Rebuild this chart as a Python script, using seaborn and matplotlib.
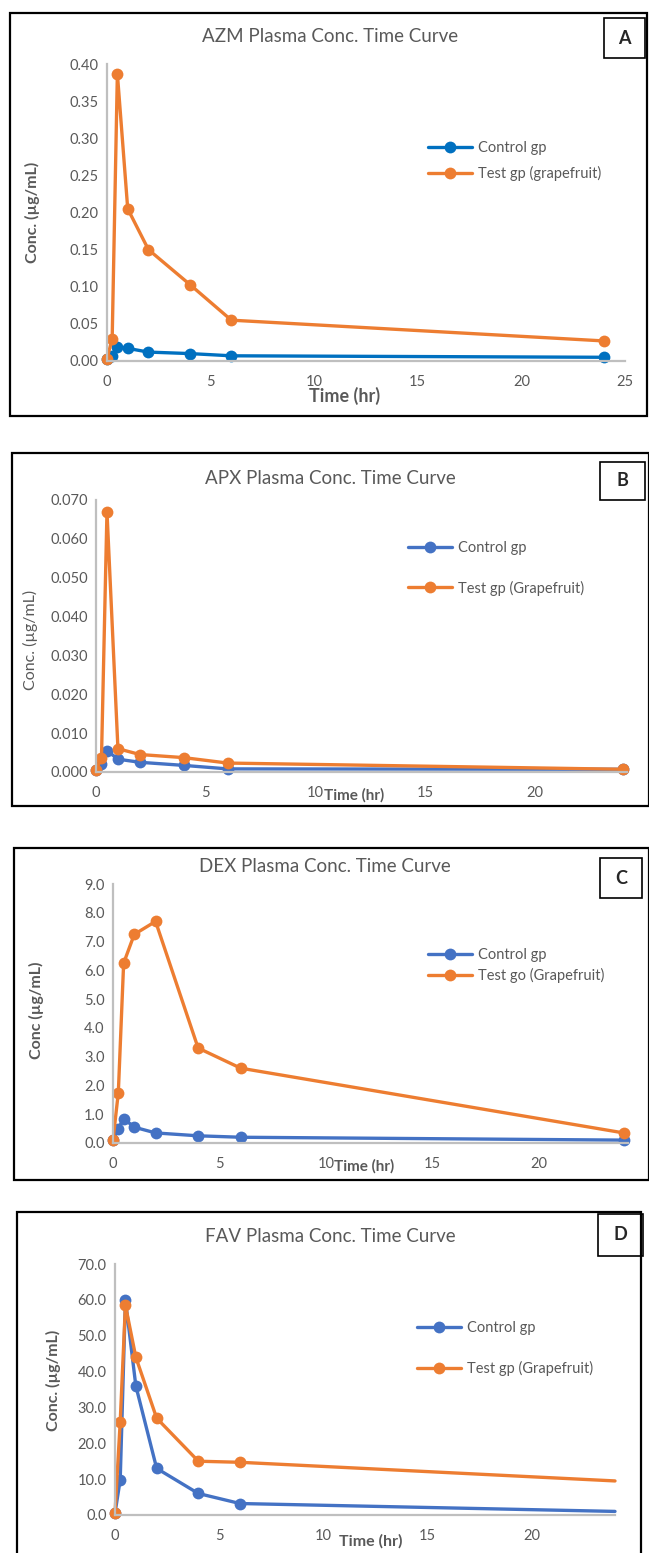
import matplotlib
matplotlib.use("Agg")
import matplotlib.pyplot as plt
import seaborn as sns
import pandas as pd
from matplotlib.patches import Rectangle
from matplotlib.ticker import FormatStrFormatter

# sampling times (hr)
time_hr = [0, 0.25, 0.5, 1, 2, 4, 6, 24]

# AZM
azm_control = [0.003, 0.007, 0.019, 0.017, 0.012, 0.010, 0.007, 0.005]
azm_test = [0.003, 0.030, 0.387, 0.205, 0.150, 0.103, 0.055, 0.027]
# APX
apx_control = [0.0005, 0.0020, 0.0055, 0.0033, 0.0025, 0.0017, 0.0008, 0.0007]
apx_test = [0.0005, 0.0037, 0.0670, 0.0060, 0.0045, 0.0037, 0.0023, 0.0007]
# DEX
dex_control = [0.10, 0.50, 0.85, 0.55, 0.35, 0.25, 0.20, 0.10]
dex_test = [0.10, 1.75, 6.25, 7.25, 7.70, 3.30, 2.60, 0.35]
# FAV
fav_control = [0.5, 9.8, 60.0, 36.0, 13.0, 6.0, 3.2, 1.0]
fav_test = [0.5, 26.0, 58.5, 44.0, 27.0, 15.0, 14.7, 9.5]

W, H = 649, 1553
GREY = "#595959"
ORANGE = "#ED7D31"

sns.set_style("white")
plt.rcParams["font.family"] = ["Lato", "DejaVu Sans"]

fig = plt.figure(figsize=(W / 100, H / 100), dpi=100)


def fx(x):
    return x / W


def fy(y):
    return 1 - y / H


def draw_panel(spec):
    # outer frame of the panel
    x0, y0, x1, y1 = spec["frame"]
    fig.patches.append(Rectangle((fx(x0), fy(y1)), fx(x1 - x0), (y1 - y0) / H,
                                 transform=fig.transFigure, fill=False,
                                 edgecolor="black", linewidth=1.6))
    bx0, by0, bx1, by1 = spec["letter_box"]
    fig.patches.append(Rectangle((fx(bx0), fy(by1)), fx(bx1 - bx0), (by1 - by0) / H,
                                 transform=fig.transFigure, fill=False,
                                 edgecolor="black", linewidth=1.2))
    fig.text(fx((bx0 + bx1) / 2), fy((by0 + by1) / 2), spec["letter"],
             ha="center", va="center", fontsize=13, fontweight="bold")

    l, r, t, b = spec["axes"]
    ax = fig.add_axes([fx(l), fy(b), fx(r - l), (b - t) / H])
    df = pd.DataFrame({"time": time_hr * 2,
                       "conc": spec["control"] + spec["test"],
                       "group": [spec["labels"][0]] * 8 + [spec["labels"][1]] * 8})
    last = spec.get("markevery", None)
    sns.lineplot(data=df, x="time", y="conc", hue="group",
                 palette=[spec["blue"], ORANGE], marker="o", markersize=8.5,
                 markeredgewidth=0, linewidth=2.4, ax=ax, clip_on=False,
                 markevery=last, legend=False)
    ax.set_xlim(0, spec["xmax"])
    ax.set_ylim(0, spec["ymax"])
    ax.set_xticks(spec["xticks"])
    ax.set_yticks(spec["yticks"])
    ax.yaxis.set_major_formatter(FormatStrFormatter(spec["yfmt"]))
    ax.tick_params(length=0, labelsize=10.5, colors=GREY, pad=6)
    ax.tick_params(axis="x", pad=10)
    for side in ["top", "right"]:
        ax.spines[side].set_visible(False)
    for side in ["left", "bottom"]:
        ax.spines[side].set_color("#BFBFBF")
        ax.spines[side].set_linewidth(1.6)
    ax.set_facecolor("none")

    ax.set_xlabel("Time (hr)", fontsize=spec["xl_size"], fontweight="bold",
                  color=GREY, va="center")
    ax.xaxis.set_label_coords((spec["xl_pos"][0] - l) / (r - l),
                              (b - spec["xl_pos"][1]) / (b - t))
    ax.set_ylabel(spec["ylabel"], fontsize=11.5, color=GREY,
                  fontweight=spec["yl_weight"], va="center")
    ax.yaxis.set_label_coords((spec["yl_pos"][0] - l) / (r - l),
                              (b - spec["yl_pos"][1]) / (b - t))
    fig.text(fx(spec["title_pos"][0]), fy(spec["title_pos"][1]), spec["title"],
             ha="center", va="center", fontsize=13.5, color=GREY)

    handles = [plt.Line2D([], [], color=c, marker="o", markersize=8.5,
                          markeredgewidth=0, linewidth=2.4)
               for c in [spec["blue"], ORANGE]]
    lx, ly = spec["legend_pos"]
    leg = ax.legend(handles, spec["labels"], loc="upper left",
                    bbox_to_anchor=(fx(lx), fy(ly)), bbox_transform=fig.transFigure,
                    frameon=False, fontsize=10.5, handlelength=3.0,
                    handletextpad=0.4, labelspacing=spec["legend_gap"],
                    borderpad=0, borderaxespad=0)
    for txt in leg.get_texts():
        txt.set_color(GREY)
    return ax


panels = [
    dict(frame=(10, 13, 647, 416), letter_box=(604, 18, 645, 58), letter="A",
         axes=(107, 625, 64, 361), control=azm_control, test=azm_test,
         blue="#0070C0", labels=["Control gp", "Test gp (grapefruit)"],
         xmax=25, ymax=0.40, xticks=[0, 5, 10, 15, 20, 25],
         yticks=[0, 0.05, 0.10, 0.15, 0.20, 0.25, 0.30, 0.35, 0.40], yfmt="%.2f",
         xl_size=13, xl_pos=(345, 396), ylabel="Conc. (µg/mL)", yl_weight="bold",
         yl_pos=(32, 212), title="AZM Plasma Conc. Time Curve", title_pos=(330, 36),
         legend_pos=(428, 141), legend_gap=0.75),
    dict(frame=(12, 453, 649, 806), letter_box=(600, 462, 645, 500), letter="B",
         axes=(96, 627, 500, 772), control=apx_control, test=apx_test,
         blue="#4472C4", labels=["Control gp", "Test gp (Grapefruit)"],
         xmax=24.2, ymax=0.070, xticks=[0, 5, 10, 15, 20],
         yticks=[0, 0.01, 0.02, 0.03, 0.04, 0.05, 0.06, 0.07], yfmt="%.3f",
         xl_size=11, xl_pos=(354, 795), ylabel="Conc. (µg/mL)", yl_weight="normal",
         yl_pos=(30, 640), title="APX Plasma Conc. Time Curve", title_pos=(330, 478),
         legend_pos=(408, 541), legend_gap=1.75),
    dict(frame=(14, 848, 649, 1180), letter_box=(600, 858, 642, 898), letter="C",
         axes=(113, 628, 884, 1143), control=dex_control, test=dex_test,
         blue="#4472C4", labels=["Control gp", "Test go (Grapefruit)"],
         xmax=24.2, ymax=9.0, xticks=[0, 5, 10, 15, 20],
         yticks=[0, 1, 2, 3, 4, 5, 6, 7, 8, 9], yfmt="%.1f",
         xl_size=11, xl_pos=(364, 1166), ylabel="Conc (µg/mL)", yl_weight="bold",
         yl_pos=(36, 1010), title="DEX Plasma Conc. Time Curve", title_pos=(325, 866),
         legend_pos=(428, 948), legend_gap=0.4),
    dict(frame=(17, 1212, 641, 1560), letter_box=(598, 1214, 643, 1256), letter="D",
         axes=(115, 615, 1264, 1515), control=fav_control, test=fav_test,
         blue="#4472C4", labels=["Control gp", "Test gp (Grapefruit)"],
         xmax=24, ymax=70, xticks=[0, 5, 10, 15, 20],
         yticks=[0, 10, 20, 30, 40, 50, 60, 70], yfmt="%.1f",
         xl_size=11.5, xl_pos=(371, 1541), ylabel="Conc. (µg/mL)", yl_weight="bold",
         yl_pos=(53, 1380), title="FAV Plasma Conc. Time Curve", title_pos=(330, 1236),
         legend_pos=(417, 1321), legend_gap=1.8, markevery=list(range(7))),
]

for p in panels:
    draw_panel(p)

fig.savefig("out.png", dpi=100)
